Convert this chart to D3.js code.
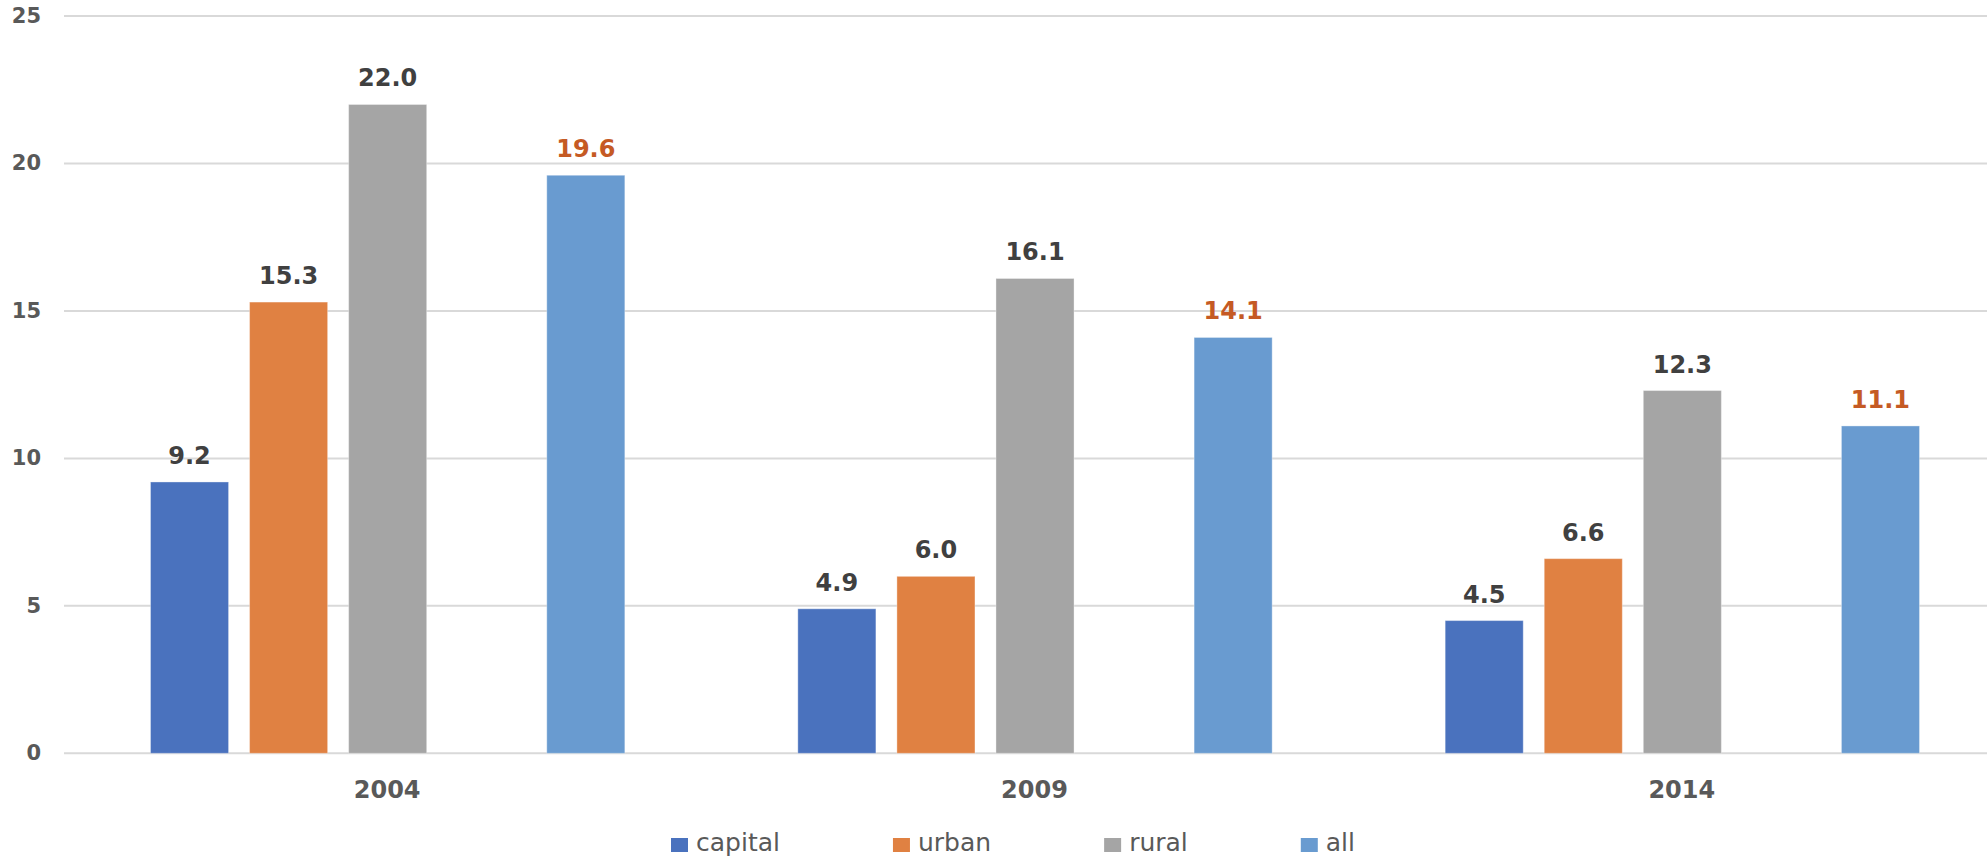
<!DOCTYPE html>
<html>
<head>
<meta charset="utf-8">
<script src="https://cdn.jsdelivr.net/npm/d3@7/dist/d3.min.js"></script>
<style>
  html, body { margin: 0; padding: 0; background: #ffffff; }
  svg { display: block; font-family: "DejaVu Sans", Verdana, sans-serif; }
</style>
</head>
<body>
<svg id="chart" width="1987" height="856"></svg>
<script>
// Survey years on the category axis
const years = ["2004", "2009", "2014"];

// Series names, in legend order
const seriesNames = ["capital", "urban", "rural", "all"];

// Values per series, one per year
const capital = [9.2, 4.9, 4.5];
const urban   = [15.3, 6.0, 6.6];
const rural   = [22.0, 16.1, 12.3];
const all     = [19.6, 14.1, 11.1];

// Value axis ticks
const yTicks = [0, 5, 10, 15, 20, 25];

const seriesValues = { capital, urban, rural, all };
const colors = { capital: "#4a72be", urban: "#e08142", rural: "#a5a5a5", all: "#699bd0" };
const labelColors = { capital: "#404040", urban: "#404040", rural: "#404040", all: "#c55a24" };

const svg = d3.select("#chart");

const plotLeft = 64, plotRight = 2006, plotTop = 16, plotBottom = 753.3;

const y = d3.scaleLinear().domain([0, 25]).range([plotBottom, plotTop]);

const x0 = d3.scaleBand().domain(years).range([plotLeft, plotRight]).padding(0);

// Five slots per group: an empty slot sits between "rural" and "all"
const slots = ["capital", "urban", "rural", "_gap", "all"];
const groupPad = 86.5;
const x1 = d3.scaleBand().domain(slots)
  .range([groupPad, x0.bandwidth() - groupPad])
  .paddingInner(0.212).paddingOuter(0);

// Horizontal gridlines
svg.append("g").selectAll("line").data(yTicks).join("line")
  .attr("x1", plotLeft).attr("x2", 1987)
  .attr("y1", d => y(d)).attr("y2", d => y(d))
  .attr("stroke", "#d9d9d9").attr("stroke-width", 2);

// Value axis labels
svg.append("g").selectAll("text").data(yTicks).join("text")
  .attr("x", 41).attr("y", d => y(d))
  .attr("text-anchor", "end").attr("dominant-baseline", "central")
  .attr("font-size", 21).attr("font-weight", "bold").attr("fill", "#595959")
  .text(d => d);

// Bars and value labels
const rows = [];
years.forEach((yr, i) => {
  seriesNames.forEach(s => rows.push({ year: yr, series: s, value: seriesValues[s][i] }));
});

const groups = svg.append("g");
groups.selectAll("rect").data(rows).join("rect")
  .attr("x", d => x0(d.year) + x1(d.series))
  .attr("y", d => y(d.value))
  .attr("width", x1.bandwidth())
  .attr("height", d => y(0) - y(d.value))
  .attr("fill", d => colors[d.series])
  .attr("stroke", "rgba(255,255,255,0.35)").attr("stroke-width", 1);

groups.selectAll("text").data(rows).join("text")
  .attr("x", d => x0(d.year) + x1(d.series) + x1.bandwidth() / 2)
  .attr("y", d => y(d.value) - 18)
  .attr("text-anchor", "middle")
  .attr("font-size", 24).attr("font-weight", "bold")
  .attr("fill", d => labelColors[d.series])
  .text(d => d.value.toFixed(1));

// Category axis labels
svg.append("g").selectAll("text").data(years).join("text")
  .attr("x", d => x0(d) + x0.bandwidth() / 2 - 0.5)
  .attr("y", 798)
  .attr("text-anchor", "middle")
  .attr("font-size", 24).attr("font-weight", "bold").attr("fill", "#595959")
  .text(d => d);

// Legend
const legend = svg.append("g");
let lx = 671;
seriesNames.forEach(s => {
  legend.append("rect")
    .attr("x", lx).attr("y", 838).attr("width", 17).attr("height", 14)
    .attr("fill", colors[s]);
  const t = legend.append("text")
    .attr("x", lx + 25).attr("y", 851)
    .attr("font-size", 25).attr("fill", "#595959")
    .text(s);
  const w = t.node().getComputedTextLength();
  lx = lx + 25 + w + 113;
});
</script>
</body>
</html>
